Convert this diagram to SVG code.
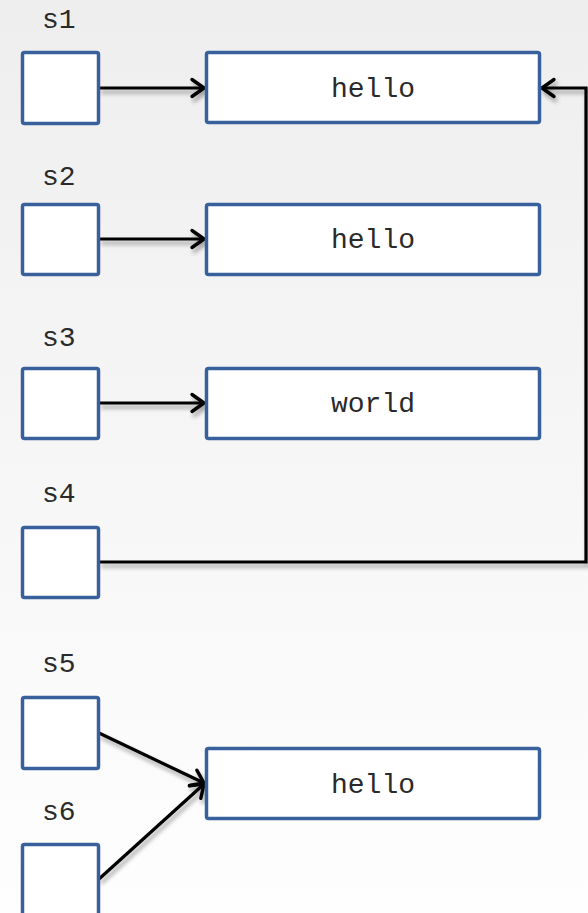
<svg xmlns="http://www.w3.org/2000/svg" width="588" height="913" viewBox="0 0 588 913">
  <defs>
    <linearGradient id="bg" x1="0" y1="0" x2="0" y2="1">
      <stop offset="0" stop-color="#eeeeee"/>
      <stop offset="1" stop-color="#fefefe"/>
    </linearGradient>
    <filter id="shadow" x="-20%" y="-20%" width="140%" height="160%">
      <feGaussianBlur in="SourceAlpha" stdDeviation="2.2"/>
      <feOffset dx="2" dy="4" result="b"/>
      <feComponentTransfer><feFuncA type="linear" slope="0.35"/></feComponentTransfer>
      <feMerge><feMergeNode/><feMergeNode in="SourceGraphic"/></feMerge>
    </filter>
    <marker id="arrow" markerUnits="userSpaceOnUse" markerWidth="24" markerHeight="24" refX="13" refY="10" orient="auto" overflow="visible">
      <path d="M1,1.5 L13,10 L1,18.5" fill="none" stroke="#000" stroke-width="3.4" stroke-linecap="round" stroke-linejoin="round"/>
    </marker>
    <style>
      .box { fill: #ffffff; stroke: #38609c; stroke-width: 3.5; }
      .lbl { font-family: "Liberation Mono", "Courier New", monospace; font-size: 28px; fill: #2a2a2a; }
      .val { font-family: "Liberation Mono", "Courier New", monospace; font-size: 28px; fill: #2a2a2a; text-anchor: middle; }
      .edge { fill: none; stroke: #000000; stroke-width: 3.2; }
    </style>
  </defs>

  <rect width="588" height="913" fill="url(#bg)"/>

  <g id="connectors" filter="url(#shadow)">
    <path class="edge" d="M99,88 H204" marker-end="url(#arrow)"/>
    <path class="edge" d="M99,239 H204" marker-end="url(#arrow)"/>
    <path class="edge" d="M99,403 H204" marker-end="url(#arrow)"/>
    <path class="edge" d="M99,562 H586 V88 H542" marker-end="url(#arrow)"/>
    <path class="edge" d="M99,733 L204,783" marker-end="url(#arrow)"/>
    <path class="edge" d="M99,879 L204,784" marker-end="url(#arrow)"/>
  </g>

  <g id="s1">
    <text class="lbl" x="42" y="28">s1</text>
    <rect class="box" x="22.5" y="52.5" width="76" height="71" rx="2"/>
  </g>
  <g id="s2">
    <text class="lbl" x="42" y="185">s2</text>
    <rect class="box" x="22.5" y="204.5" width="76" height="70" rx="2"/>
  </g>
  <g id="s3">
    <text class="lbl" x="42" y="346">s3</text>
    <rect class="box" x="22.5" y="368.5" width="76" height="70" rx="2"/>
  </g>
  <g id="s4">
    <text class="lbl" x="42" y="502">s4</text>
    <rect class="box" x="22.5" y="527.5" width="76" height="70" rx="2"/>
  </g>
  <g id="s5">
    <text class="lbl" x="42" y="672">s5</text>
    <rect class="box" x="22.5" y="697.5" width="76" height="71" rx="2"/>
  </g>
  <g id="s6">
    <text class="lbl" x="42" y="820">s6</text>
    <rect class="box" x="22.5" y="844.5" width="76" height="72" rx="2"/>
  </g>

  <g id="str1">
    <rect class="box" x="206.5" y="52.5" width="333" height="70" rx="2"/>
    <text class="val" x="373" y="97">hello</text>
  </g>
  <g id="str2">
    <rect class="box" x="206.5" y="204.5" width="333" height="70" rx="2"/>
    <text class="val" x="373" y="248">hello</text>
  </g>
  <g id="str3">
    <rect class="box" x="206.5" y="368.5" width="333" height="70" rx="2"/>
    <text class="val" x="373" y="412">world</text>
  </g>
  <g id="str5">
    <rect class="box" x="206.5" y="748.5" width="333" height="70" rx="2"/>
    <text class="val" x="373" y="793">hello</text>
  </g>
</svg>
